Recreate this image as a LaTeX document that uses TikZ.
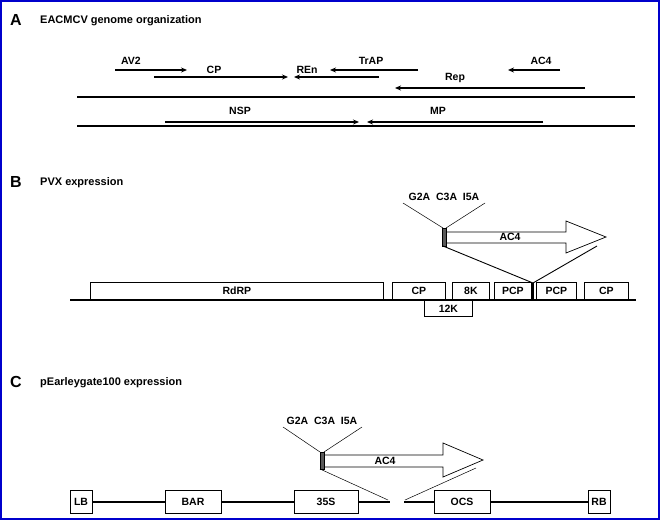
\documentclass[tikz,border=0pt]{standalone}
\usepackage{fontspec}
\setmainfont{Liberation Sans}
\usetikzlibrary{arrows.meta}
\begin{document}
\begin{tikzpicture}[x=1pt,y=-1pt,
 lbl/.style={font=\bfseries\fontsize{10.5}{12}\selectfont,inner sep=0pt},
 ttl/.style={font=\bfseries\fontsize{11}{13}\selectfont,anchor=west,inner sep=0pt},
 big/.style={font=\bfseries\fontsize{16}{18}\selectfont,anchor=west,inner sep=0pt},
 gene/.style={line width=1.6pt,-{Stealth[length=6pt,width=5pt]}},
 bb/.style={line width=1.4pt},
 box/.style={draw,line width=0.8pt,fill=white,font=\bfseries\fontsize{10.5}{12}\selectfont,inner sep=0pt},
 thin/.style={line width=0.5pt}]
\useasboundingbox (0,0) rectangle (660,520);
\draw[blue!80!black,line width=2.5pt] (1.2,1.2) rectangle (658.8,518.8);
% A
\node[big] (tA) at (10,20) {A};
\node[ttl] (tA2) at (40,21) {EACMCV genome organization};
\coordinate (l1a) at (77,97); \coordinate (l1b) at (635,97);
\draw[bb] (l1a) -- (l1b);
\coordinate (l2a) at (77,126); \coordinate (l2b) at (635,126);
\draw[bb] (l2a) -- (l2b);
\coordinate (av2a) at (115,70); \coordinate (av2b) at (187,70);
\draw[gene] (av2a) -- (av2b); \node[lbl] (av2) at (131,61) {AV2};
\coordinate (cpa) at (154,77); \coordinate (cpb) at (288,77);
\draw[gene] (cpa) -- (cpb); \node[lbl] (cp) at (214,70) {CP};
\coordinate (rena) at (379,77); \coordinate (renb) at (294,77);
\draw[gene] (rena) -- (renb); \node[lbl] (ren) at (307,70) {REn};
\coordinate (trapa) at (418,70); \coordinate (trapb) at (330,70);
\draw[gene] (trapa) -- (trapb); \node[lbl] (trap) at (371,61) {TrAP};
\coordinate (repa) at (585,88); \coordinate (repb) at (395,88);
\draw[gene] (repa) -- (repb); \node[lbl] (rep) at (455,78) {Rep};
\coordinate (ac4a) at (560,70); \coordinate (ac4b) at (508,70);
\draw[gene] (ac4a) -- (ac4b); \node[lbl] (ac4) at (541,61) {AC4};
\coordinate (nspa) at (165,122); \coordinate (nspb) at (359,122);
\draw[gene] (nspa) -- (nspb); \node[lbl] (nsp) at (240,111) {NSP};
\coordinate (mpa) at (543,122); \coordinate (mpb) at (367,122);
\draw[gene] (mpa) -- (mpb); \node[lbl] (mp) at (438,111) {MP};
% B
\node[big] (tB) at (10,182) {B};
\node[ttl] (tB2) at (40,183) {PVX expression};
\coordinate (bla) at (70,300); \coordinate (blb) at (636,300);
\draw[bb] (bla) -- (blb);
\node[box,minimum width=48pt,minimum height=16pt,anchor=north west] (k12) at (424,300) {12K};
\node[box,minimum width=293pt,minimum height=17pt,anchor=south west] (rdrp) at (90,300) {RdRP};
\node[box,minimum width=53pt,minimum height=17pt,anchor=south west] (cp1) at (392,300) {CP};
\node[box,minimum width=37pt,minimum height=17pt,anchor=south west] (k8) at (452,300) {8K};
\node[box,minimum width=37pt,minimum height=17pt,anchor=south west] (pcp1) at (494,300) {PCP};
\node[box,minimum width=40pt,minimum height=17pt,anchor=south west] (pcp2) at (536,300) {PCP};
\node[box,minimum width=44pt,minimum height=17pt,anchor=south west] (cp2) at (584,300) {CP};
\coordinate (ins) at (533,283);
\draw[line width=1.8pt] (533,283) -- (533,300);
\draw[line width=0.7pt,fill=white] (446,232) -- (566,232) -- (566,221) -- (606,237) -- (566,253) -- (566,243) -- (446,243) -- cycle;
\node[lbl] (ac4B) at (510,237) {AC4};
\draw[fill=gray!70!black,draw=black,line width=0.3pt] (442.5,228) rectangle (446.5,246);
\coordinate (barB) at (443,246);
\coordinate (endB) at (597,246);
\draw[line width=0.9pt] (barB) -- (ins) -- (endB);
\node[lbl,anchor=south] (mutB) at (444,201) {G2A\ \ C3A\ \ I5A};
\draw[thin] (403,203) -- (443,228);
\draw[thin] (485,203) -- (446,228);
% C
\node[big] (tC) at (10,382) {C};
\node[ttl] (tC2) at (40,383) {pEarleygate100 expression};
\node[box,minimum width=22pt,minimum height=23pt] (lb) at (81,502) {LB};
\node[box,minimum width=56pt,minimum height=23pt] (bar) at (193,502) {BAR};
\node[box,minimum width=64pt,minimum height=23pt] (s35) at (326,502) {35S};
\node[box,minimum width=56pt,minimum height=23pt] (ocs) at (462,502) {OCS};
\node[box,minimum width=22pt,minimum height=23pt] (rb) at (599,502) {RB};
\coordinate (g1) at (390,502); \coordinate (g2) at (404,502);
\draw[bb] (lb) -- (bar); \draw[bb] (bar) -- (s35); \draw[bb] (s35.east) -- (g1);
\draw[bb] (g2) -- (ocs); \draw[bb] (ocs) -- (rb);
\draw[line width=0.7pt,fill=white] (324,455) -- (443,455) -- (443,443) -- (483,460) -- (443,477) -- (443,467) -- (324,467) -- cycle;
\node[lbl] (ac4C) at (385,461) {AC4};
\draw[fill=gray!70!black,draw=black,line width=0.3pt] (320,452) rectangle (324.5,469);
\draw[thin] (320,469) -- (388,500);
\draw[thin] (405,500) -- (476,468);
\node[lbl,anchor=south] (mutC) at (322,425) {G2A\ \ C3A\ \ I5A};
\draw[thin] (283,427) -- (320,452);
\draw[thin] (362,427) -- (324,452);
\end{tikzpicture}
\end{document}
